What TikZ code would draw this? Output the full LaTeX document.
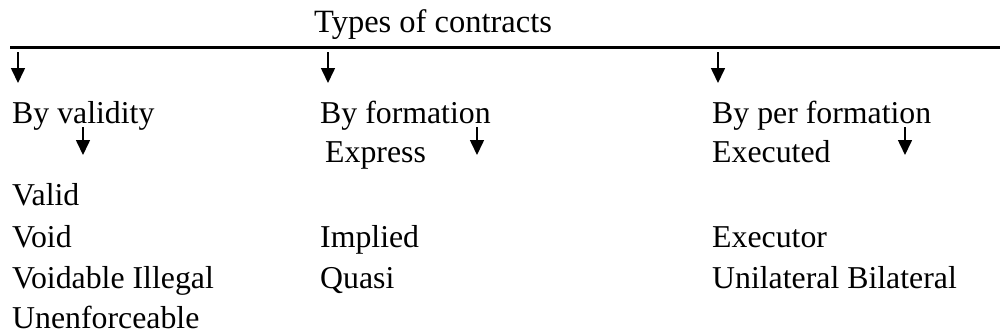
\documentclass[tikz,border=0pt]{standalone}
\usepackage{fontspec}
\setmainfont{Liberation Serif}
\usetikzlibrary{arrows.meta}
\begin{document}
\begin{tikzpicture}[x=1pt,y=-1pt,
  label/.style={anchor=base west,inner sep=0pt,font=\fontsize{31.8}{38}\selectfont},
  downarrow/.style={line width=1.6pt,-{Triangle[width=14pt,length=15pt]}}]
\useasboundingbox (0,0) rectangle (1001,335);

% heading and rule
\node[label,font=\fontsize{32.5}{38}\selectfont] (title) at (314,32) {Types of contracts};
\coordinate (ruleL) at (10,47.5);
\coordinate (ruleR) at (1000,47.5);
\draw[line width=2.6pt] (ruleL) -- (ruleR);

% first level
\node[label] (val) at (12,123) {By validity};
\node[label] (form) at (320,123) {By formation};
\node[label] (perf) at (712,123) {By per formation};

\coordinate (a1s) at (18,52);   \coordinate (a1e) at (18,83);
\coordinate (a2s) at (328,52);  \coordinate (a2e) at (328,83);
\coordinate (a3s) at (718,52);  \coordinate (a3e) at (718,83);
\draw[downarrow] (a1s) -- (a1e);
\draw[downarrow] (a2s) -- (a2e);
\draw[downarrow] (a3s) -- (a3e);

% second level arrows
\coordinate (b1s) at (83,127);  \coordinate (b1e) at (83,155);
\coordinate (b2s) at (477,127); \coordinate (b2e) at (477,155);
\coordinate (b3s) at (905,127); \coordinate (b3e) at (905,155);
\draw[downarrow] (b1s) -- (b1e);
\draw[downarrow] (b2s) -- (b2e);
\draw[downarrow] (b3s) -- (b3e);

% by validity
\node[label] (valid) at (12,205) {Valid};
\node[label] (void) at (12,247) {Void};
\node[label] (voidable) at (12,288) {Voidable Illegal};
\node[label] (unenf) at (12,328) {Unenforceable};

% by formation
\node[label] (express) at (325,162) {Express};
\node[label] (implied) at (320,247) {Implied};
\node[label] (quasi) at (320,288) {Quasi};

% by performance
\node[label] (executed) at (712,162) {Executed};
\node[label] (executor) at (712,247) {Executor};
\node[label] (unibi) at (712,288) {Unilateral Bilateral};
\end{tikzpicture}
\end{document}
